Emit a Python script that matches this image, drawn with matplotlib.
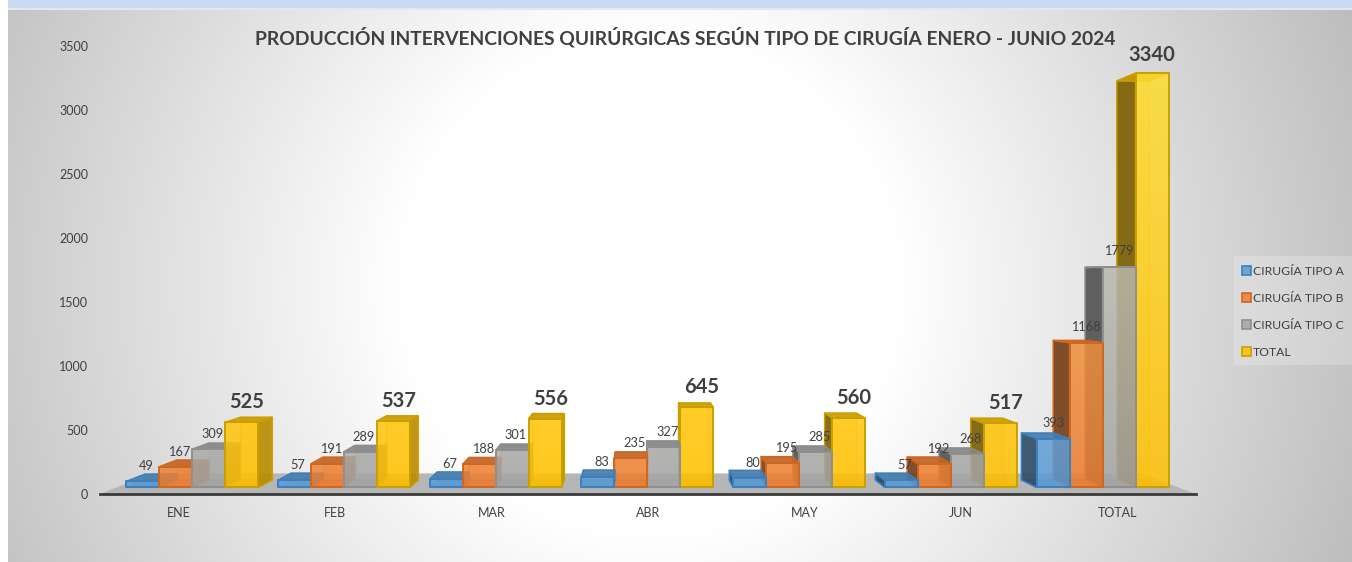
import numpy as np
import matplotlib
matplotlib.use('Agg')
import matplotlib.pyplot as plt
from matplotlib.patches import Polygon, Patch, Rectangle
from matplotlib.colors import to_rgb

W, H = 1352, 562

months = ['ENE', 'FEB', 'MAR', 'ABR', 'MAY', 'JUN', 'TOTAL']
tipo_a = [49, 57, 67, 83, 80, 57, 393]
tipo_b = [167, 191, 188, 235, 195, 192, 1168]
tipo_c = [309, 289, 301, 327, 285, 268, 1779]
total = [525, 537, 556, 645, 560, 517, 3340]
y_ticks = [0, 500, 1000, 1500, 2000, 2500, 3000, 3500]
series_names = ['CIRUGÍA TIPO A', 'CIRUGÍA TIPO B', 'CIRUGÍA TIPO C', 'TOTAL']

faces = ['#5B9BD5', '#ED7D31', '#A5A5A5', '#FFC000']
edges = ['#3A80C0', '#D2661C', '#8F8F8F', '#C9A000']

# one point perspective, all in data units of the main axes
VP_X, VP_V = 2.885, 1640.0
S_FLOOR_BACK = 0.902
S_FRONT, S_BACK = 0.969, 0.933
BAR_W = 0.2175

plt.rcParams['font.family'] = ['Lato', 'DejaVu Sans']
txt = '#404040'


def proj(x, v, s):
    return (VP_X + (x - VP_X) * s, VP_V + (v - VP_V) * s)


def shade(c, f):
    return tuple(f * np.array(to_rgb(c)))


def quad(ax, pts, fc, ec, alpha, lw=1.3, z=3):
    p = Polygon(pts, closed=True, facecolor=to_rgb(fc) + (alpha,), edgecolor=ec,
                linewidth=lw, clip_on=False, zorder=z, joinstyle='round')
    ax.add_patch(p)
    return p


def front_face(ax, x0, x1, val, fc, ec, z):
    # tall bars get lighter towards the top
    (a, b), (c, d) = proj(x0, 0, S_FRONT), proj(x1, val, S_FRONT)
    base = np.array(to_rgb(fc))
    light = base + (1 - base) * np.array([0.6, 0.6, 0.25])
    lift = np.linspace(0.75 * val / max(total), 0, 64)[:, None]
    col = base * (1 - lift) + light * lift
    rgba = np.dstack([col[:, None, 0], col[:, None, 1], col[:, None, 2], np.full((64, 1), 0.84)])
    poly = quad(ax, [(a, b), (c, b), (c, d), (a, d)], fc, 'none', 0, 0, z)
    im = ax.imshow(rgba, extent=(a, c, b, d), aspect='auto', zorder=z, interpolation='bilinear', origin='upper')
    im.set_clip_path(poly)
    quad(ax, [(a, b), (c, b), (c, d), (a, d)], fc, ec, 0, 1.4, z)


def bar3d(ax, x0, val, fc, ec, z):
    x1 = x0 + BAR_W
    # back and bottom first, they only show through the other faces
    quad(ax, [proj(x0, 0, S_BACK), proj(x1, 0, S_BACK), proj(x1, val, S_BACK), proj(x0, val, S_BACK)],
         fc, to_rgb(ec) + (0.4,), 0.18, 1.0, z)
    quad(ax, [proj(x0, 0, S_FRONT), proj(x1, 0, S_FRONT), proj(x1, 0, S_BACK), proj(x0, 0, S_BACK)],
         shade(fc, 0.8), to_rgb(ec) + (0.4,), 0.35, 1.0, z)
    # the side that faces the vanishing point
    if x1 + BAR_W / 2 < VP_X:
        side_x, f = x1, 0.72
    elif x0 - BAR_W / 2 > VP_X:
        side_x, f = x0, 0.47
    else:
        side_x, f = None, 0
    if side_x is not None:
        quad(ax, [proj(side_x, 0, S_FRONT), proj(side_x, val, S_FRONT),
                  proj(side_x, val, S_BACK), proj(side_x, 0, S_BACK)],
             shade(fc, f), ec, 0.88, 1.1, z)
    quad(ax, [proj(x0, val, S_FRONT), proj(x1, val, S_FRONT), proj(x1, val, S_BACK), proj(x0, val, S_BACK)],
         shade(fc, 0.8), ec, 0.9, 1.1, z)
    front_face(ax, x0, x1, val, fc, ec, z)


fig = plt.figure(figsize=(W / 100, H / 100), dpi=100)

# chart area background, white centre fading to grey
bg = fig.add_axes([0, 0, 1, 1])
yy, xx = np.mgrid[0:H, 0:W]
r = np.hypot(xx - 650, yy - 285)
shade_v = 1 - (1 - 0.74) * np.clip((r - 250) / 510, 0, 1)
img = np.dstack([shade_v] * 3)
img[:, :8] = 1
img[:8, 8:] = to_rgb('#CBDAF3')
img[8:10, 8:] = to_rgb('#E4E8EE')
bg.imshow(img, aspect='auto', interpolation='nearest')
bg.axis('off')

ax = fig.add_axes([100 / W, 1 - 494 / H, 1096 / W, 448 / H])
ax.patch.set_alpha(0)
ax.set_xlim(-0.5, 6.5)
ax.set_ylim(0, 3500)
ax.set_autoscale_on(False)
for name in ['top', 'left', 'right']:
    ax.spines[name].set_visible(False)
ax.spines['bottom'].set_color('#3A3A3A')
ax.spines['bottom'].set_linewidth(2)
ax.spines['bottom'].set_zorder(2)
ax.set_yticks(y_ticks)
ax.set_xticks(range(len(months)))
ax.set_xticklabels(months)
ax.tick_params(axis='both', length=0, labelsize=9, labelcolor=txt)
ax.tick_params(axis='y', pad=8.5)
ax.tick_params(axis='x', pad=9.5)

# floor
quad(ax, [proj(-0.5, 0, 1), proj(6.5, 0, 1), proj(6.5, 0, S_FLOOR_BACK), proj(-0.5, 0, S_FLOOR_BACK)],
     '#B6B6B6', 'none', 1.0, 0, 1)

series = [tipo_a, tipo_b, tipo_c, total]
for i in range(len(months)):
    # bars further from the vanishing point are painted first
    order = range(4) if i < VP_X else range(3, -1, -1)
    for j in order:
        x0 = i + (j - 2) * BAR_W
        bar3d(ax, x0, series[j][i], faces[j], edges[j], 3 + i)
    for j in range(4):
        x0 = i + (j - 2) * BAR_W
        big = j == 3
        dx = 0 if i == 6 else (5 if big else 3.5)
        dy = 18 if (big and i == 6) else (20 if big else 15)
        if i == 6 and not big:
            dy = 16
        ax.annotate(str(series[j][i]), proj(x0 + BAR_W / 2, series[j][i], S_FRONT),
                    xytext=(dx, dy), textcoords='offset pixels', ha='center', va='center',
                    fontsize=14.5 if big else 9.2, fontweight='bold' if big else 'normal',
                    color=txt, zorder=20, annotation_clip=False)

fig.text(685 / W, 1 - 37 / H, 'PRODUCCIÓN INTERVENCIONES QUIRÚRGICAS SEGÚN TIPO DE CIRUGÍA ENERO - JUNIO 2024',
         ha='center', va='center', fontsize=13.9, fontweight='bold', color=txt)

# legend box is its own patch, it runs off the right side of the chart
fig.add_artist(Rectangle((1234 / W, 1 - 365 / H), 118 / W, 109 / H, transform=fig.transFigure,
                         facecolor=(1, 1, 1, 0.22), edgecolor='none'))
handles = [Patch(facecolor=to_rgb(f) + (0.85,), edgecolor=e, linewidth=1.2) for f, e in zip(faces, edges)]
leg = fig.legend(handles, series_names, loc='upper left', bbox_to_anchor=(1232 / W, 1 - 256 / H),
                 frameon=False, fontsize=8.7, labelcolor=txt, handlelength=0.75, handleheight=0.8,
                 handletextpad=0.2, labelspacing=1.33, borderaxespad=0, borderpad=0.8)

fig.savefig('out.png', dpi=100)
